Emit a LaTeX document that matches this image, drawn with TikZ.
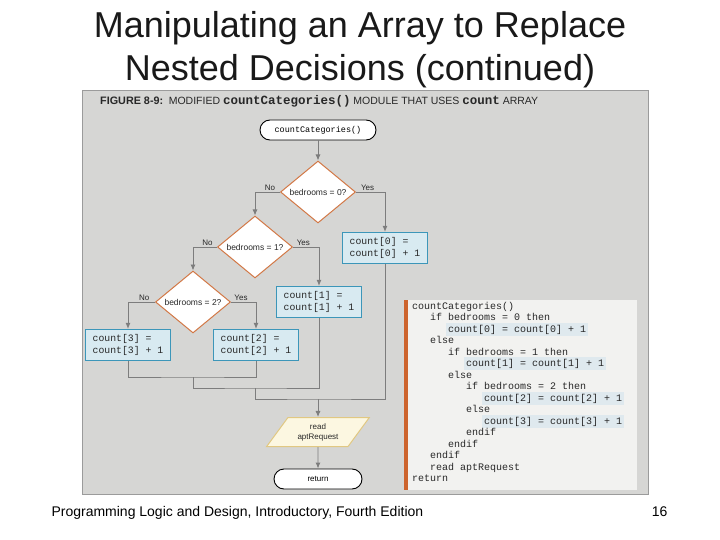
\documentclass[tikz,border=0pt]{standalone}
\usepackage{fontspec}
\setmainfont{Liberation Sans}
\setmonofont{Liberation Mono}
\usetikzlibrary{arrows.meta,positioning,shapes.geometric}
\definecolor{panelgray}{RGB}{214,214,212}
\definecolor{paneledge}{RGB}{155,155,155}
\definecolor{flowgray}{RGB}{125,125,125}
\definecolor{decorange}{RGB}{210,120,70}
\definecolor{boxblue}{RGB}{216,234,241}
\definecolor{boxedge}{RGB}{60,150,185}
\definecolor{codebg}{RGB}{242,242,240}
\definecolor{codebar}{RGB}{205,100,45}
\definecolor{hlblue}{RGB}{223,233,238}
\definecolor{readfill}{RGB}{252,247,225}
\definecolor{readedge}{RGB}{225,200,130}
\definecolor{inkgray}{RGB}{40,40,40}

\begin{document}
\begin{tikzpicture}[
  x=1pt,y=-1pt,
  flow/.style={draw=flowgray,line width=0.9pt},
  arrow/.style={flow,-{Latex[length=6pt,width=5pt]}},
  terminal/.style={draw=black,fill=white,line width=0.9pt,rounded corners=10pt,
    minimum width=116pt,minimum height=20pt,inner sep=1pt},
  decision/.style={diamond,draw=decorange,fill=white,line width=1pt,aspect=1.2,
    inner sep=1pt,minimum width=75pt,minimum height=62pt,text=inkgray,
    font=\fontsize{8.5}{10}\selectfont},
  process/.style={draw=boxedge,fill=boxblue,line width=1.2pt,minimum width=85pt,
    minimum height=31pt,align=left,text=inkgray,font=\fontsize{9.8}{11.5}\ttfamily},
  io/.style={trapezium,trapezium left angle=52,trapezium right angle=128,
    trapezium stretches=true,draw=readedge,fill=readfill,line width=1pt,
    minimum width=103pt,minimum height=29pt,align=center,inner sep=1pt,
    text=inkgray,font=\fontsize{8}{10}\selectfont},
  branch/.style={font=\fontsize{8}{9}\selectfont,text=inkgray,inner sep=1pt},
  code/.style={anchor=base west,font=\fontsize{10}{11}\ttfamily,text=inkgray,
    inner xsep=2pt,inner ysep=1.8pt},
  codehl/.style={code,fill=hlblue}
]
\useasboundingbox[fill=white] (0,0) rectangle (720,540);

% title and footer
\node[anchor=base,text=black!90,font=\fontsize{36}{43}\selectfont] (title1) at (360,38) {Manipulating an Array to Replace};
\node[anchor=base,text=black!90,font=\fontsize{36}{43}\selectfont] (title2) at (360,81) {Nested Decisions (continued)};
\node[anchor=base west,font=\fontsize{14}{16}\selectfont] (foot) at (48,516) {Programming Logic and Design, Introductory, Fourth Edition};
\node[anchor=base east,font=\fontsize{14}{16}\selectfont] (page) at (671,516) {16};

% figure panel
\draw[draw=paneledge,fill=panelgray] (82,90) rectangle (648,494);
\node[anchor=west,inner sep=0pt,text=inkgray] (caption) at (100,101)
  {{\fontsize{10.8}{12}\bfseries FIGURE 8-9:}\ \ {\fontsize{10.5}{11}\selectfont MODIFIED
   {\fontsize{12.5}{13}\bfseries\ttfamily countCategories()} MODULE THAT USES
   {\fontsize{12.5}{13}\bfseries\ttfamily count} ARRAY}};

% flowchart
\node[terminal,font=\fontsize{8.5}{10}\ttfamily] (start) at (318,130) {countCategories()};
\node[decision] (dec0) at (318,192) {bedrooms = 0?};
\node[decision] (dec1) at (255,247) {bedrooms = 1?};
\node[decision] (dec2) at (193,302) {bedrooms = 2?};
\node[process] (cnt0) at (385,248) {count[0] =\\count[0] + 1};
\node[process] (cnt1) at (319,302) {count[1] =\\count[1] + 1};
\node[process] (cnt2) at (256,345) {count[2] =\\count[2] + 1};
\node[process] (cnt3) at (128,345) {count[3] =\\count[3] + 1};
\coordinate (join2) at (193,377);
\coordinate (join1) at (255,388);
\coordinate (join0) at (318,399);
\node[io] (read) at (318,432) {read\\aptRequest};
\node[terminal,minimum width=88pt,font=\fontsize{8}{10}\selectfont] (ret) at (318,479) {return};

\draw[arrow] (start) -- (dec0);
\draw[arrow] (dec0.west) -| node[branch,pos=0.2,above] {No} (dec1.north);
\draw[arrow] (dec0.east) -| node[branch,pos=0.2,above] {Yes} (cnt0.north);
\draw[arrow] (dec1.west) -| node[branch,pos=0.2,above] {No} (dec2.north);
\draw[arrow] (dec1.east) -| node[branch,pos=0.2,above] {Yes} (cnt1.north);
\draw[arrow] (dec2.west) -| node[branch,pos=0.2,above] {No} (cnt3.north);
\draw[arrow] (dec2.east) -| node[branch,pos=0.2,above] {Yes} (cnt2.north);
\draw[flow] (cnt3.south) |- (join2) -| (cnt2.south);
\draw[flow] (join2) |- (join1) -| (cnt1.south);
\draw[flow] (join1) |- (join0) -| (cnt0.south);
\draw[arrow] (join0) -- (read);
\draw[arrow] (read) -- (ret);

% pseudocode
\fill[codebg] (404,300) rectangle (637,490);
\fill[codebar] (404,300) rectangle (407.5,490);
\node[code] (line1) at (410,309.5) {countCategories()};
\node[code] (line2) at (428,320.5) {if bedrooms = 0 then};
\node[codehl] (line3) at (446,332) {count[0] = count[0] + 1};
\node[code] (line4) at (428,343.5) {else};
\node[code] (line5) at (446,355) {if bedrooms = 1 then};
\node[codehl] (line6) at (464,366.5) {count[1] = count[1] + 1};
\node[code] (line7) at (446,378) {else};
\node[code] (line8) at (464,389.5) {if bedrooms = 2 then};
\node[codehl] (line9) at (482,401) {count[2] = count[2] + 1};
\node[code] (line10) at (464,412.5) {else};
\node[codehl] (line11) at (482,424) {count[3] = count[3] + 1};
\node[code] (line12) at (464,435.5) {endif};
\node[code] (line13) at (446,447) {endif};
\node[code] (line14) at (428,458.5) {endif};
\node[code] (line15) at (428,470) {read aptRequest};
\node[code] (line16) at (410,481.5) {return};
\end{tikzpicture}
\end{document}
